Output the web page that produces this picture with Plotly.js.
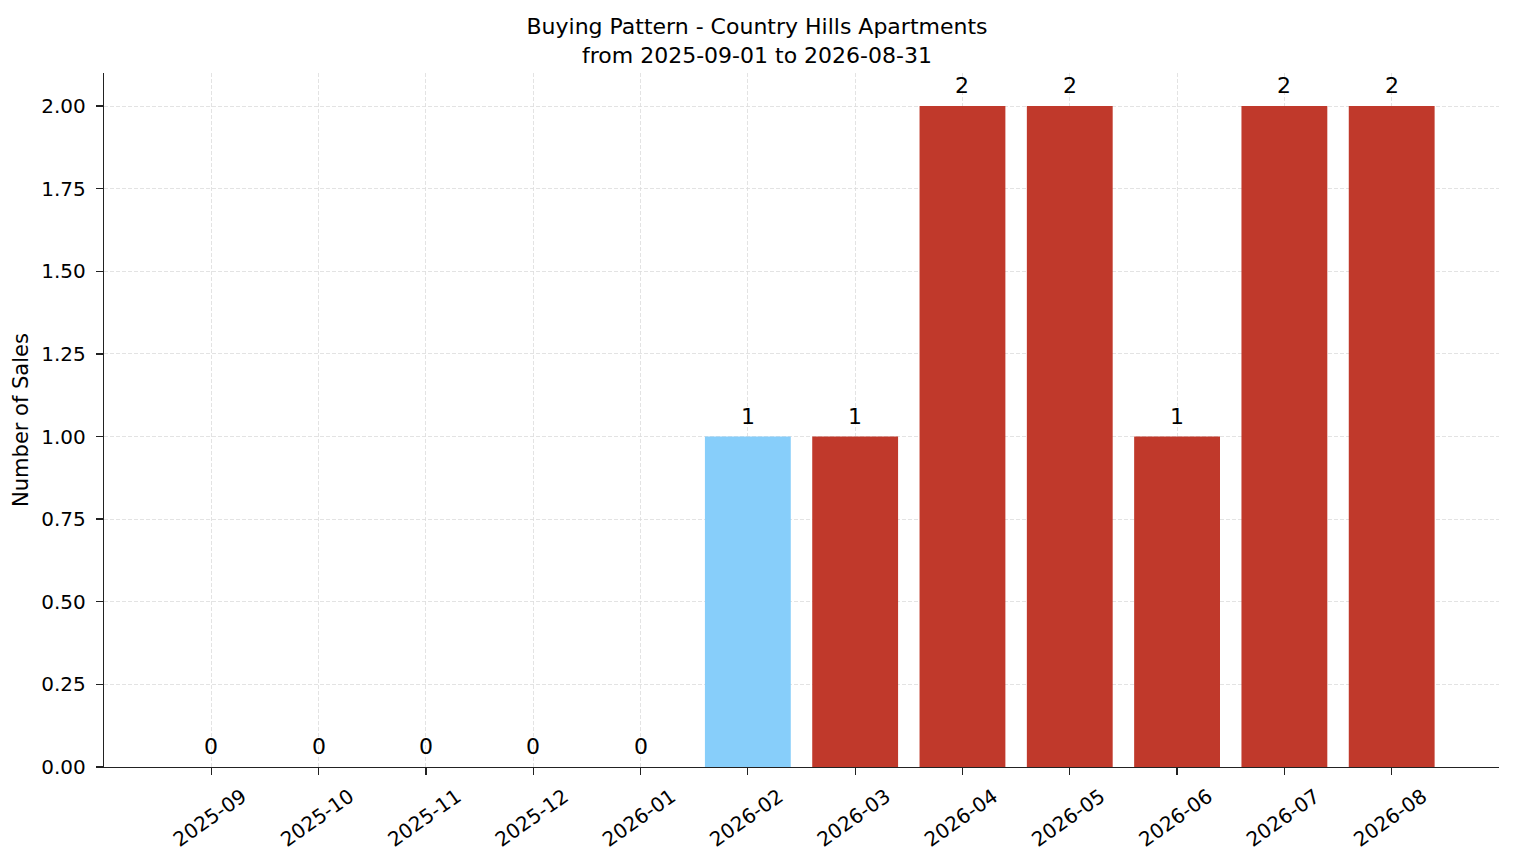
<!DOCTYPE html>
<html>
<head>
<meta charset="utf-8">
<script src="https://cdn.plot.ly/plotly-3.0.1.min.js"></script>
<style>
  html, body { margin: 0; padding: 0; background: #fff; }
  #chart { width: 1514px; height: 863px; }
</style>
</head>
<body>
<div id="chart"></div>
<script>
// monthly sales counts
const months = ['2025-09', '2025-10', '2025-11', '2025-12', '2026-01', '2026-02',
                '2026-03', '2026-04', '2026-05', '2026-06', '2026-07', '2026-08'];
const sales = [0, 0, 0, 0, 0, 1, 1, 2, 2, 1, 2, 2];
const barColors = ['#87cefa', '#87cefa', '#87cefa', '#87cefa', '#87cefa', '#87cefa',
                   '#c0392b', '#c0392b', '#c0392b', '#c0392b', '#c0392b', '#c0392b'];

const font = 'DejaVu Sans, sans-serif';
const xs = months.map((m, i) => i);

let trace = {
    type: 'bar',
    x: xs,
    y: sales,
    width: 0.8,
    marker: { color: barColors, line: { width: 0 } },
    hoverinfo: 'x+y'
};

// value labels above each bar
let labels = xs.map((x, i) => ({
    x: x,
    y: sales[i],
    xref: 'x',
    yref: 'y',
    text: String(sales[i]),
    showarrow: false,
    yanchor: 'bottom',
    yshift: 6,
    font: { family: font, size: 22, color: '#000' }
}));

let layout = {
    width: 1514,
    height: 863,
    margin: { l: 104, r: 15, t: 73, b: 96 },
    paper_bgcolor: '#fff',
    plot_bgcolor: '#fff',
    font: { family: font, size: 20, color: '#000' },
    showlegend: false,
    title: {
        text: 'Buying Pattern - Country Hills Apartments<br>from 2025-09-01 to 2026-08-31',
        font: { family: font, size: 22, color: '#000' },
        x: 0.5,
        xanchor: 'center',
        yref: 'paper',
        y: 1,
        yanchor: 'bottom',
        pad: { b: 39 }
    },
    annotations: labels,
    xaxis: {
        range: [-1, 12],
        tickmode: 'array',
        tickvals: xs,
        ticktext: months,
        tickangle: -35,
        ticklabelshift: 31,
        ticklabelstandoff: 2,
        ticks: 'outside',
        ticklen: 7,
        tickwidth: 1.3,
        tickcolor: '#222',
        showline: true,
        linecolor: '#222',
        linewidth: 1.3,
        showgrid: true,
        gridcolor: '#dcdcdc',
        griddash: '4px,2px',
        gridwidth: 0.8,
        zeroline: false,
        fixedrange: true,
        tickfont: { family: font, size: 20 }
    },
    yaxis: {
        range: [0, 2.1],
        dtick: 0.25,
        tick0: 0,
        tickformat: '.2f',
        ticks: 'outside',
        ticklen: 7,
        tickwidth: 1.3,
        tickcolor: '#222',
        ticklabelstandoff: 6,
        showline: true,
        linecolor: '#222',
        linewidth: 1.3,
        showgrid: true,
        gridcolor: '#dcdcdc',
        griddash: '4px,2px',
        gridwidth: 0.8,
        zeroline: false,
        tickfont: { family: font, size: 20 },
        title: { text: 'Number of Sales', font: { family: font, size: 21 }, standoff: 6 }
    }
};

Plotly.newPlot('chart', [trace], layout, { displayModeBar: false, staticPlot: true });
</script>
</body>
</html>
